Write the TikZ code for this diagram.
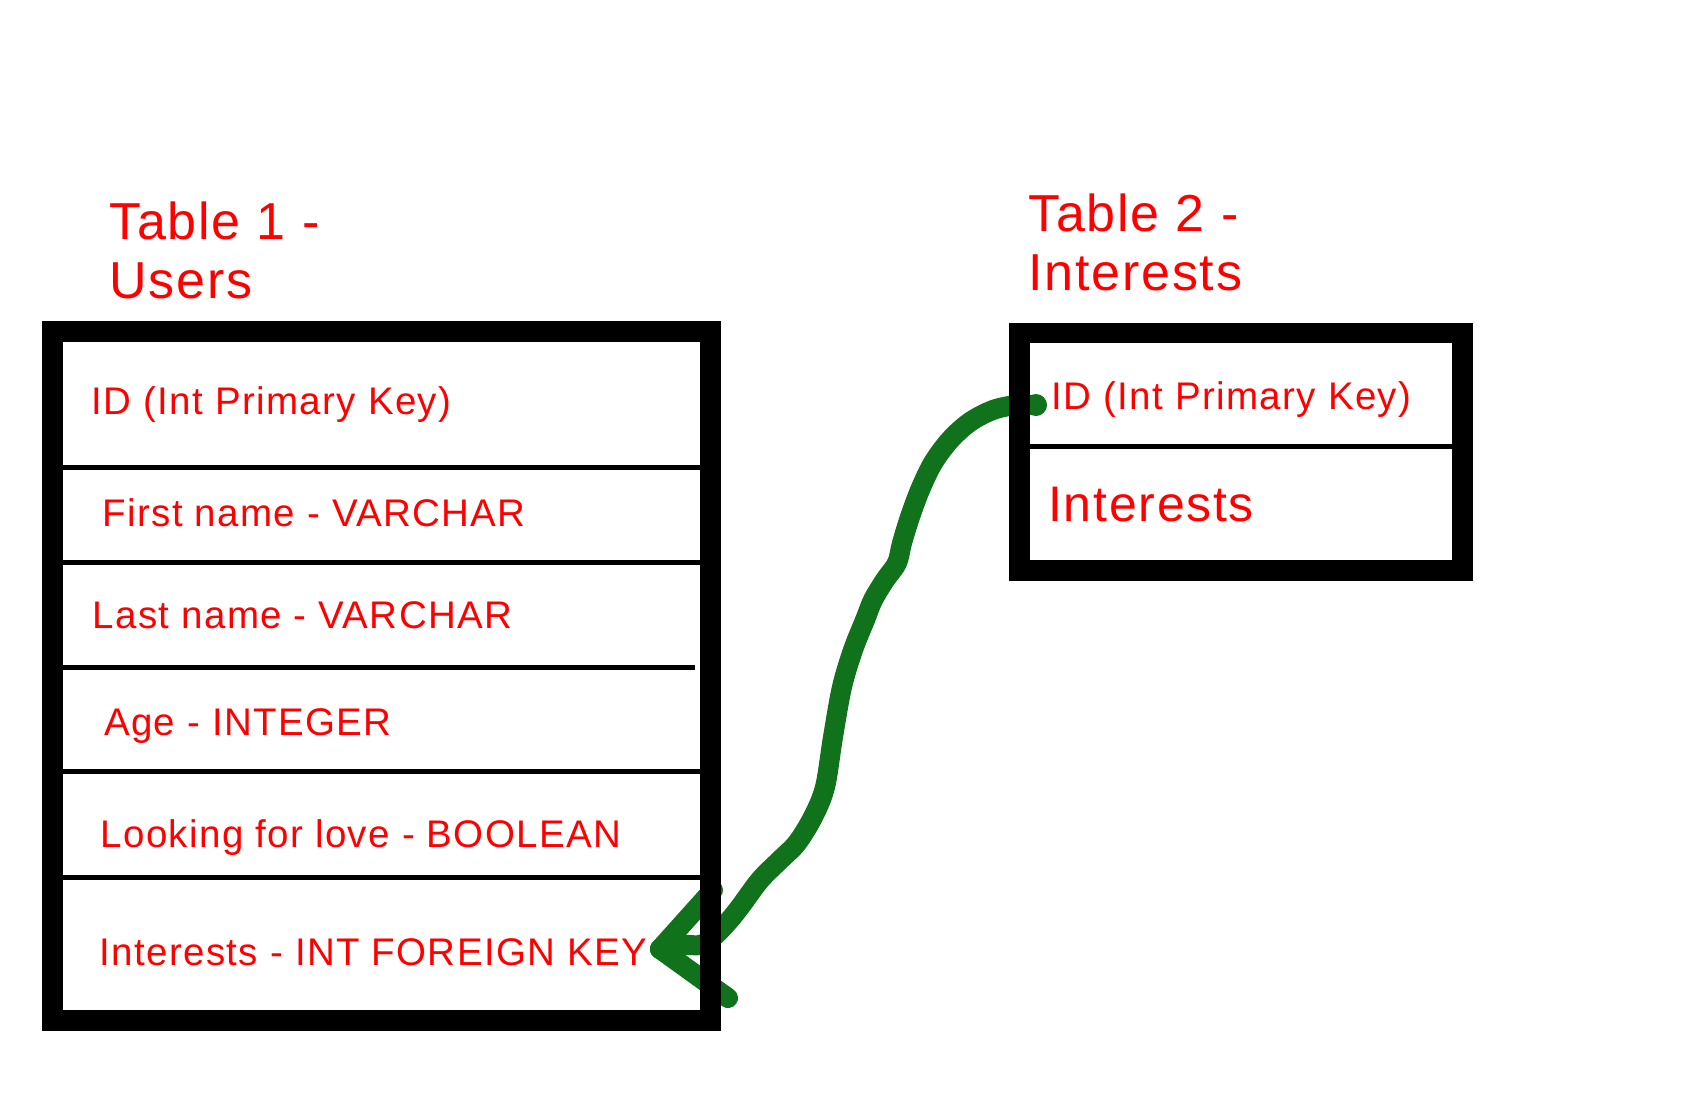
\documentclass[tikz,border=0pt]{standalone}
\usepackage{fontspec}
\setmainfont{Liberation Sans}[LetterSpace=3.5]
\definecolor{linkgreen}{RGB}{16,114,26}
\begin{document}
\begin{tikzpicture}[x=1pt,y=-1pt,
  field/.style={anchor=base west, inner sep=0pt, text=red, font=\fontsize{38.5}{46}\selectfont},
  bigfield/.style={anchor=base west, inner sep=0pt, text=red, font=\fontsize{50}{58}\selectfont},
  ttl/.style={anchor=base west, inner sep=0pt, text=red, font=\fontsize{52}{58}\selectfont},
  frame/.style={draw=black, line width=20.7pt, inner sep=0pt, outer sep=0pt},
  sepline/.style={draw=black, line width=5pt},
  link/.style={draw=linkgreen, line width=20pt, line cap=round, line join=round}]
\useasboundingbox[fill=white] (0,0) rectangle (1700,1109);

% titles
\node[ttl] (t1a) at (109,239.5) {Table 1 -};
\node[ttl] (t1b) at (109,298) {Users};
\node[ttl] (t2a) at (1028,231.5) {Table 2 -};
\node[ttl] (t2b) at (1028,290) {Interests};

% link (drawn below the frames)
\coordinate (pkdot) at (1036,405);
\coordinate (fktip) at (660,949);
\coordinate (armup) at (713,890);
\coordinate (armdown) at (728,998);
\draw[link] plot[smooth, tension=0.55] coordinates {(pkdot) (1016,405) (993,410) (970,422) (950,440) (933,463) (920,490) (910,517) (902,543) (897,563) (885,580) (873,600) (865,620) (853,650) (842,687) (833,737) (825,787) (813,817) (797,843) (780,860) (760,880) (740,907) (727,923) (712,938) (700,945) (683,945) (fktip)};
\fill[linkgreen] (pkdot) circle (11);
\draw[link] (fktip) -- (armup);
\draw[link] (fktip) -- (armdown);

% table 1
\node[frame, minimum width=658.2pt, minimum height=689.1pt] (tab1) at (381.4,675.9) {};
\draw[sepline] (63,467.5) -- (700,467.5);
\draw[sepline] (63,562.5) -- (700,562.5);
\draw[sepline] (63,667.5) -- (695,667.5);
\draw[sepline] (63,771.7) -- (700,771.7);
\draw[sepline] (63,877.5) -- (700,877.5);
\node[field] (f1) at (91.5,414) {ID (Int Primary Key)};
\node[field] (f2) at (102.5,526.7) {First name - VARCHAR};
\node[field] (f3) at (92.5,628.3) {Last name - VARCHAR};
\node[field] (f4) at (104,735) {Age - INTEGER};
\node[field] (f5) at (100.5,847.3) {Looking for love - BOOLEAN};
\node[field] (f6) at (99.5,965) {Interests - INT FOREIGN KEY};

% table 2
\node[frame, minimum width=443.3pt, minimum height=237.5pt] (tab2) at (1240.85,451.75) {};
\draw[sepline] (1030,446) -- (1452,446);
\node[field] (g1) at (1051.5,409.3) {ID (Int Primary Key)};
\node[bigfield] (g2) at (1048,521.7) {Interests};
\end{tikzpicture}
\end{document}
